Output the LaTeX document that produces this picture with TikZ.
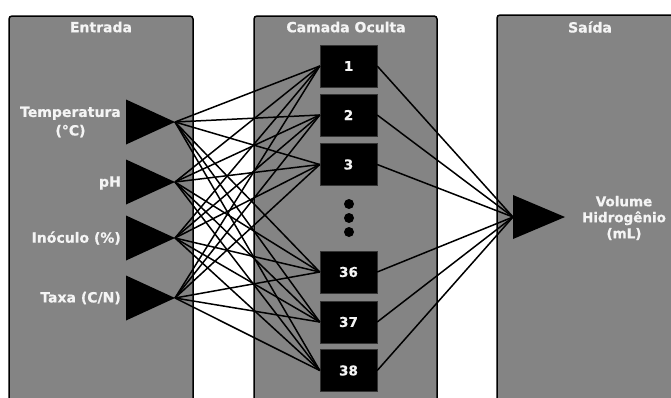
\documentclass[tikz,border=0pt]{standalone}
\usepackage{fontspec}
\setmainfont{DejaVu Sans}[BoldFeatures={FakeBold=0.6}]
\definecolor{panelgray}{HTML}{848484}
\definecolor{labelwhite}{HTML}{F4F4F4}
\begin{document}
\begin{tikzpicture}[x=1pt,y=-1pt,
  panel/.style={draw=black, line width=1.5pt, fill=panelgray, rounded corners=3pt},
  headtext/.style={text=labelwhite, font=\bfseries\fontsize{14}{16}\selectfont, inner sep=0pt},
  inlabel/.style={text=labelwhite, font=\bfseries\fontsize{14}{18.5}\selectfont, align=center, anchor=east, inner sep=0pt},
  neuron/.style={fill=black, draw=black!80, line width=0.4pt, minimum width=57pt, minimum height=42pt, inner sep=0pt,
    text=labelwhite, font=\bfseries\fontsize{13.5}{15}\selectfont},
  wire/.style={draw=black, line width=1.5pt},
  tri/.style={fill=black}
]
\useasboundingbox (0,0) rectangle (671,397);
\clip (0,0) rectangle (671,397);
\fill[white] (0,0) rectangle (671,397);

% three layer panels (running past the lower / right edge)
\draw[panel] (9,16) rectangle (193,420);
\draw[panel] (254,16) rectangle (437,420);
\draw[panel] (497,15) rectangle (700,420);

\node[headtext] (hin)  at (101,27) {Entrada};
\node[headtext] (hhid) at (346,27) {Camada Oculta};
\node[headtext] (hout) at (590,27) {Saída};

% input neurons: tips of the triangles
\coordinate (i1) at (175,122);
\coordinate (i2) at (175,182);
\coordinate (i3) at (175,238);
\coordinate (i4) at (175,298);

% hidden neurons
\node[neuron] (h1)  at (348.5,66)    {1};
\node[neuron] (h2)  at (348.5,115)   {2};
\node[neuron] (h3)  at (348.5,164.5) {3};
\node[neuron] (h36) at (348.5,272)   {36};
\node[neuron] (h37) at (348.5,322)   {37};
\node[neuron] (h38) at (348.5,370.5) {38};

% output neuron: base centre and tip
\coordinate (oin)  at (513,217);
\coordinate (otip) at (565,217);

% connections input -> hidden
\foreach \i in {i1,i2,i3,i4}
  \foreach \h in {h1,h2,h3,h36,h37,h38}
    \draw[wire] (\i) -- (\h.west);

% connections hidden -> output
\foreach \h in {h1,h2,h3,h36,h37,h38}
  \draw[wire] (\h.east) -- (oin);

% triangles drawn over the wire ends
\foreach \i in {i1,i2,i3,i4}
  \fill[tri] (\i) -- ([shift={(-49,-22.5)}]\i) -- ([shift={(-49,22.5)}]\i) -- cycle;
\fill[tri] (otip) -- ([shift={(0,-22)}]oin) -- ([shift={(0,22)}]oin) -- cycle;

% ellipsis between hidden neurons
\fill (349,204) circle (5);
\fill (349,218) circle (5);
\fill (349,232) circle (5);

% input labels
\node[inlabel] (l1) at (121,122) {Temperatura\\(°C)};
\node[inlabel] (l2) at (121,183) {pH};
\node[inlabel] (l3) at (121,238) {Inóculo (\%)};
\node[inlabel] (l4) at (121,298) {Taxa (C/N)};

% output label
\node[text=labelwhite, font=\bfseries\fontsize{13.5}{16}\selectfont, align=center, inner sep=0pt]
  (lo) at (624,218) {Volume\\Hidrogênio\\(mL)};
\end{tikzpicture}
\end{document}
